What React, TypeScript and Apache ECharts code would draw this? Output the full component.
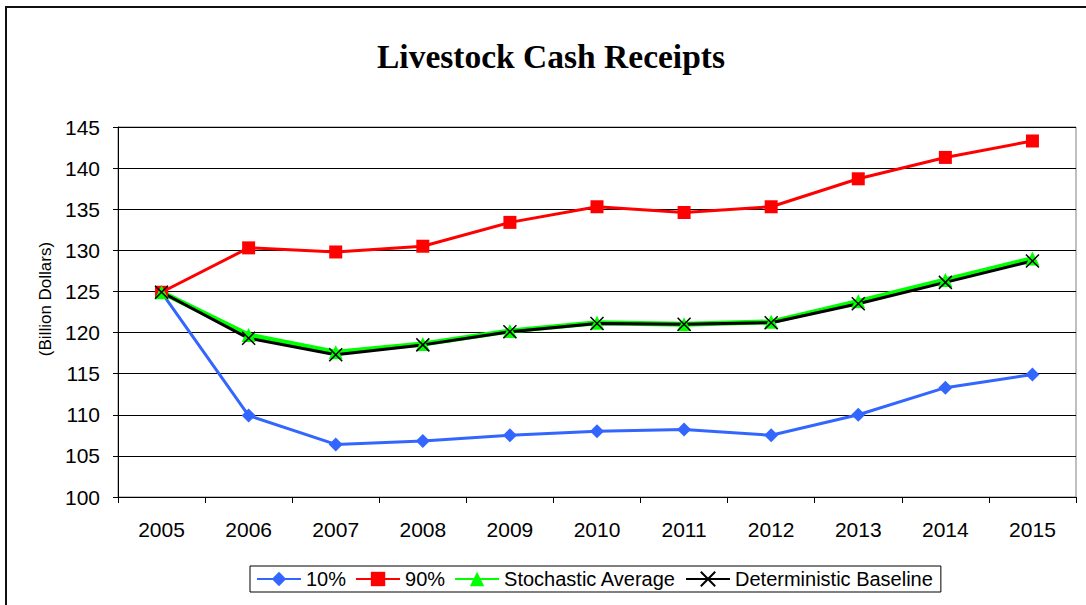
import React, { useEffect, useRef } from "react";
import * as echarts from "echarts";

const years = ["2005", "2006", "2007", "2008", "2009", "2010", "2011", "2012", "2013", "2014", "2015"];
const p10 = [124.9, 109.9, 106.4, 106.8, 107.5, 108.0, 108.2, 107.5, 110.0, 113.3, 114.9];
const p90 = [124.9, 130.3, 129.8, 130.5, 133.4, 135.3, 134.6, 135.3, 138.7, 141.3, 143.3];
const stochastic = [124.9, 119.7, 117.6, 118.6, 120.2, 121.2, 121.0, 121.3, 123.8, 126.4, 129.0];
const deterministic = [124.9, 119.3, 117.3, 118.5, 120.1, 121.1, 121.0, 121.2, 123.5, 126.1, 128.7];

const yMin = 100;
const yMax = 145;
const yStep = 5;

const X_PATH = "path://M0,0 L10,10 M10,0 L0,10";

export default function App() {
  const ref = useRef<HTMLDivElement>(null);
  useEffect(() => {
    if (!ref.current) return;
    const chart = echarts.init(ref.current, null, { renderer: "svg" });
    chart.setOption({
      animation: false,
      backgroundColor: "#fff",
      title: {
        text: "Livestock Cash Receipts",
        left: 546,
        top: 34,
        textAlign: "center",
        textStyle: {
          fontFamily: "Liberation Serif",
          fontWeight: "bold",
          fontSize: 33.5,
          color: "#000",
        },
      },
      grid: {
        left: 118,
        right: 10,
        top: 127,
        bottom: 108,
        show: true,
        borderColor: "#808080",
        borderWidth: 1,
        containLabel: false,
      },
      legend: {
        left: 250,
        top: 566,
        padding: [3, 8, 3, 6],
        borderColor: "#000",
        borderWidth: 1,
        itemWidth: 44,
        itemHeight: 18,
        itemGap: 9,
        textStyle: { fontFamily: "Liberation Sans", fontSize: 20, color: "#000" },
        data: ["10%", "90%", "Stochastic Average", "Deterministic Baseline"],
      },
      xAxis: {
        type: "category",
        data: years,
        boundaryGap: true,
        axisLine: { lineStyle: { color: "#000", width: 1 } },
        axisTick: { show: true, length: 6, lineStyle: { color: "#000" } },
        axisLabel: {
          margin: 22,
          fontFamily: "Liberation Sans",
          fontSize: 21,
          color: "#000",
        },
        splitLine: { show: false },
      },
      yAxis: {
        type: "value",
        min: yMin,
        max: yMax,
        interval: yStep,
        axisLine: { show: true, lineStyle: { color: "#000", width: 1 } },
        axisTick: { show: true, length: 5, lineStyle: { color: "#000" } },
        axisLabel: {
          margin: 18,
          fontFamily: "Liberation Sans",
          fontSize: 21,
          color: "#000",
        },
        splitLine: { show: true, lineStyle: { color: "#000", width: 1 } },
      },
      series: [
        {
          name: "10%",
          type: "line",
          data: p10,
          symbol: "diamond",
          symbolSize: 14,
          lineStyle: { color: "#3366ff", width: 3 },
          itemStyle: { color: "#3366ff" },
        },
        {
          name: "90%",
          type: "line",
          data: p90,
          symbol: "rect",
          symbolSize: 13,
          lineStyle: { color: "#ff0000", width: 3 },
          itemStyle: { color: "#ff0000" },
        },
        {
          name: "Stochastic Average",
          type: "line",
          data: stochastic,
          symbol: "triangle",
          symbolSize: 14,
          lineStyle: { color: "#00ff00", width: 5 },
          itemStyle: { color: "#00ff00" },
        },
        {
          name: "Deterministic Baseline",
          type: "line",
          data: deterministic,
          symbol: X_PATH,
          symbolSize: 13,
          lineStyle: { color: "#000", width: 3 },
          itemStyle: { color: "#000", borderColor: "#000", borderWidth: 1.5 },
        },
      ],
      graphic: [
        {
          type: "line",
          shape: { x1: 5, y1: 7, x2: 1086, y2: 7 },
          style: { stroke: "#111", lineWidth: 2 },
        },
        {
          type: "line",
          shape: { x1: 6, y1: 7, x2: 6, y2: 605 },
          style: { stroke: "#111", lineWidth: 2 },
        },
        {
          type: "text",
          x: 45,
          y: 299,
          rotation: Math.PI / 2,
          style: {
            text: "(Billion Dollars)",
            fontFamily: "Liberation Sans",
            fontSize: 17,
            fill: "#000",
            align: "center",
            verticalAlign: "middle",
          },
        },
      ],
    });
    return () => chart.dispose();
  }, []);
  return (
    <div
      ref={ref}
      style={{ position: "fixed", left: 0, top: 0, width: 1086, height: 605 }}
    />
  );
}
